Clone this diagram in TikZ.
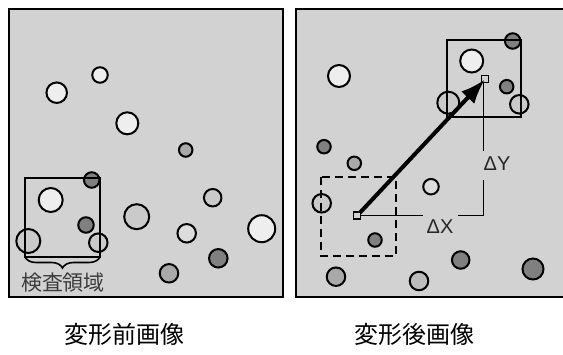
\documentclass[tikz,border=0pt]{standalone}
\usepackage{fontspec}
\newfontfamily\jpfont{Noto Sans CJK JP}
\newfontfamily\lsans{Liberation Sans}
\usetikzlibrary{arrows.meta,decorations.pathreplacing}
\definecolor{panelbg}{HTML}{D2D2D2}
\definecolor{clt}{HTML}{EEEEEE}
\definecolor{cpl}{HTML}{DCDCDC}
\definecolor{cbg}{HTML}{CACACA}
\definecolor{cmd}{HTML}{A9A9A9}
\definecolor{cml}{HTML}{BDBDBD}
\definecolor{cdk}{HTML}{808080}
\definecolor{ctext}{HTML}{3C3C3C}
\tikzset{
  panel/.style={fill=panelbg,draw=black,line width=2.8pt},
  dot/.style={circle,draw=black,line width=2pt,inner sep=0pt,minimum size=#1},
  lt/.style={fill=clt}, pl/.style={fill=cpl}, bgc/.style={fill=cbg},
  md/.style={fill=cmd}, ml/.style={fill=cml}, dk/.style={fill=cdk},
  area/.style={draw=black,line width=1.5pt},
  dasharea/.style={draw=black,line width=1.6pt,dash pattern=on 8pt off 5pt},
  marker/.style={draw=black,fill=panelbg,line width=1.2pt,inner sep=0pt,minimum size=7pt},
  deltalbl/.style={font=\lsans\fontsize{20}{20}\selectfont,text=black!85,inner sep=0pt},
  caption/.style={font=\jpfont\fontsize{24}{24}\selectfont,text=black},
}
\begin{document}
\begin{tikzpicture}[x=1pt,y=-1pt]
\useasboundingbox (0,0) rectangle (563,354);
\fill[white] (0,0) rectangle (563,354);
% left panel
\draw[panel] (9,9) rectangle (283,297);
% right panel (cut off at right edge)
\fill[panelbg] (296,9) rectangle (566,297);
\draw[line width=2.8pt] (566,9) -- (296,9) -- (296,297) -- (566,297);
% left circles
\node[dot=15.5pt,lt]  (l1)  at (100,75) {};
\node[dot=20.5pt,lt]  (l2)  at (56.7,92.7) {};
\node[dot=22pt,lt]    (l3)  at (127.3,123.3) {};
\node[dot=13.5pt,md]  (l4)  at (185.7,150) {};
\node[dot=15.5pt,dk]  (l5)  at (91.7,180) {};
\node[dot=24pt,lt]    (l6)  at (50.7,200) {};
\node[dot=15.5pt,dk]  (l7)  at (86,225) {};
\node[dot=24pt,bgc]   (l8)  at (28.3,241) {};
\node[dot=18.5pt,bgc] (l9)  at (98.3,242.7) {};
\node[dot=25pt,bgc]   (l10) at (136.7,216.7) {};
\node[dot=17.5pt,bgc] (l11) at (212.7,197.7) {};
\node[dot=18.5pt,pl]  (l12) at (186.7,233.3) {};
\node[dot=27pt,lt]    (l13) at (261.7,228.7) {};
\node[dot=18.5pt,dk]  (l14) at (218.3,258.3) {};
\node[dot=18.5pt,md]  (l15) at (169,273.3) {};
% inspection area
\draw[area] (25,178) rectangle (100,257);
\draw[line width=1.6pt,decorate,decoration={brace,amplitude=11pt}] (100,257) -- (25,257);
\node[font=\jpfont\fontsize{21}{21}\selectfont,text=ctext,inner sep=0pt] (lbl) at (63,282.5) {検査領域};
% right circles
\node[dot=22pt,lt]    (r1)  at (339,76) {};
\node[dot=23pt,lt]    (r2)  at (471.7,61) {};
\node[dot=15.5pt,dk]  (r3)  at (512.7,41) {};
\node[dot=13.5pt,dk]  (r4)  at (506.7,86.7) {};
\node[dot=22pt,bgc]   (r5)  at (448.3,102.7) {};
\node[dot=18.5pt,bgc] (r6)  at (519.3,104.3) {};
\node[dot=13.5pt,dk]  (r7)  at (324,146.7) {};
\node[dot=13.5pt,md]  (r8)  at (354.3,163.3) {};
\node[dot=15.5pt,pl]  (r9)  at (431,186.7) {};
\node[dot=18.5pt,bgc] (r10) at (321.7,203.3) {};
\node[dot=13.5pt,dk]  (r11) at (375,240) {};
\node[dot=17.5pt,dk]  (r12) at (460.7,260) {};
\node[dot=21pt,dk]    (r13) at (533,269) {};
\node[dot=18.5pt,md]  (r14) at (336,276.7) {};
\node[dot=18.5pt,ml]  (r15) at (419,281) {};
% areas
\draw[area] (447,40) rectangle (521,117);
\draw[dasharea] (320.7,176.7) rectangle (395.7,255.7);
% delta lines
\node[marker] (m0) at (357.3,215.5) {};
\node[marker] (m1) at (485,79.3) {};
\coordinate (hx1) at (423,215.5);
\coordinate (hx2) at (458,215.5);
\coordinate (cr) at (483.3,215.5);
\coordinate (vy1) at (483.3,180);
\coordinate (vy2) at (483.3,151);
\coordinate (vtop) at (483.3,83);
\draw[line width=1.6pt] (m0.east) -- (hx1);
\draw[line width=1.6pt] (hx2) -- (cr) -- (vy1);
\draw[line width=1.6pt] (vy2) -- (vtop);
\node[deltalbl] (dx) at (440,227) {ΔX};
\node[deltalbl] (dy) at (497,163.5) {ΔY};
% arrow
\draw[line width=4pt,-{Latex[length=25pt,width=18pt]}] (m0.center) -- (m1.center);
\node[marker] at (m0) {};
% captions
\node[caption] (c1) at (124,334) {変形前画像};
\node[caption] (c2) at (414,334) {変形後画像};
\end{tikzpicture}
\end{document}
